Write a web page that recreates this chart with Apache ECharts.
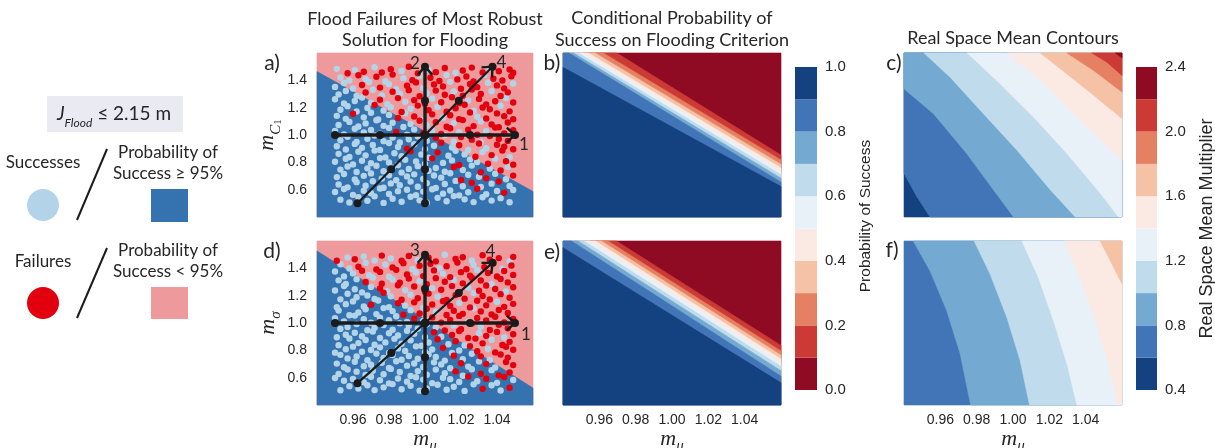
<!DOCTYPE html>
<html>
<head>
<meta charset="utf-8">
<title>Flood failure multipliers</title>
<script src="https://cdn.jsdelivr.net/npm/echarts@6.0.0/dist/echarts.min.js"></script>
<style>
  html, body { margin: 0; padding: 0; background: #ffffff; }
  #chart { width: 1215px; height: 448px; }
</style>
</head>
<body>
<div id="chart"></div>
<script>
// ---------------- axes ----------------
const muRange = [0.94, 1.06];
const multRange = [0.4, 1.6];
const muTickStep = 0.02;
const multTickStep = 0.2;

// ---------------- contour levels ----------------
const probLevels = [0, 0.1, 0.2, 0.3, 0.4, 0.5, 0.6, 0.7, 0.8, 0.9, 1.0];
const meanLevels = [0.4, 0.6, 0.8, 1.0, 1.2, 1.4, 1.6, 1.8, 2.0, 2.2, 2.4];
const meanLevelsC1 = [0.6, 0.8, 1.0, 1.2, 1.4, 1.6, 1.8, 2.0, 2.2];
const meanLevelsSigma = [0.8, 1.0, 1.2, 1.4, 1.6];

// ---------------- 95% reliability boundary (mu, multiplier) ----------------
const c1Boundary95 = [[0.94, 1.464], [1.06, 0.587]];
const sigmaBoundary95 = [[0.94, 1.527], [1.06, 0.524]];

// ---------------- conditional probability contours, levels 0.1 .. 0.9 ----------------
const probContoursC1 = [
  [[0.9696, 1.6], [1.06, 0.853]],
  [[0.9622, 1.6], [1.06, 0.817]],
  [[0.9576, 1.6], [1.06, 0.785]],
  [[0.9539, 1.6], [1.06, 0.759]],
  [[0.9512, 1.6], [1.06, 0.735]],
  [[0.9484, 1.6], [1.06, 0.710]],
  [[0.9457, 1.6], [1.06, 0.684]],
  [[0.9433, 1.6], [1.06, 0.655]],
  [[0.94, 1.495], [1.06, 0.623]]
];
const probContoursSigma = [
  [[0.9694, 1.6], [1.06, 0.836]],
  [[0.9648, 1.6], [1.06, 0.795]],
  [[0.9611, 1.6], [1.06, 0.764]],
  [[0.9578, 1.6], [1.06, 0.737]],
  [[0.9547, 1.6], [1.06, 0.711]],
  [[0.9516, 1.6], [1.06, 0.682]],
  [[0.9483, 1.6], [1.06, 0.650]],
  [[0.9446, 1.6], [1.06, 0.611]],
  [[0.94, 1.551], [1.06, 0.562]]
];

// ---------------- real space mean contours ----------------
const meanContoursC1 = [
  [[0.94, 0.72], [0.947, 0.55], [0.9543, 0.40]],
  [[0.94, 1.338], [0.9562, 1.156], [0.9745, 0.865], [0.9892, 0.599], [1.0003, 0.40]],
  [[0.951, 1.6], [0.9654, 1.423], [0.9837, 1.156], [1.0021, 0.890], [1.0205, 0.599], [1.0343, 0.40]],
  [[0.9749, 1.6], [0.9929, 1.375], [1.0113, 1.132], [1.0297, 0.865], [1.048, 0.575], [1.0581, 0.40]],
  [[0.9966, 1.6], [1.0131, 1.423], [1.0297, 1.205], [1.0462, 0.987], [1.06, 0.817]],
  [[1.015, 1.6], [1.0297, 1.447], [1.0444, 1.29], [1.06, 1.12]],
  [[1.0297, 1.6], [1.0444, 1.472], [1.06, 1.314]],
  [[1.0434, 1.6], [1.0517, 1.532], [1.06, 1.435]],
  [[1.0563, 1.6], [1.06, 1.564]]
];
const meanContoursSigma = [
  [[0.9451, 1.6], [0.9543, 1.382], [0.9635, 1.091], [0.9709, 0.776], [0.9767, 0.40]],
  [[0.9786, 1.6], [0.9874, 1.358], [0.9966, 1.042], [1.0039, 0.727], [1.0091, 0.40]],
  [[1.0049, 1.6], [1.014, 1.333], [1.0223, 1.018], [1.0297, 0.703], [1.0352, 0.40]],
  [[1.0282, 1.6], [1.037, 1.333], [1.0453, 1.018], [1.0526, 0.703], [1.0576, 0.40]],
  [[1.048, 1.6], [1.0545, 1.43], [1.06, 1.285]]
];

// ---------------- scenario paths ----------------
const arrow1Path = [[0.95, 1], [0.975, 1], [1, 1], [1.025, 1], [1.05, 1]];
const arrow2Path = [[1, 0.5], [1, 0.75], [1, 1], [1, 1.25], [1, 1.5]];
const arrow3Path = [[1, 0.5], [1, 0.75], [1, 1], [1, 1.25], [1, 1.5]];
const arrow4C1Path = [[0.9625, 0.5], [0.98125, 0.75], [1, 1], [1.01875, 1.25], [1.0375, 1.5]];
const arrow4SigmaPath = [[0.9625, 0.56], [0.98125, 0.78], [1, 1], [1.01875, 1.22], [1.0375, 1.44]];

// ---------------- sampled multipliers (rows of the sample) ----------------
const muRows = [
  [.951,.957,.961,.966,.972,.976,.981,.987,.991,.996,1.002,1.006,1.011,1.017,1.021,1.026,1.032,1.036,1.041,1.047,1.049],
  [.953,.958,.963,.967,.973,.978,.982,.988,.993,.997,1.003,1.008,1.012,1.018,1.023,1.027,1.033,1.038,1.043,1.048],
  [.950,.955,.960,.965,.969,.975,.980,.984,.990,.995,.999,1.005,1.010,1.014,1.020,1.025,1.029,1.035,1.040,1.044,1.049],
  [.952,.956,.962,.967,.971,.976,.982,.986,.991,.997,1.001,1.006,1.011,1.016,1.021,1.026,1.031,1.037,1.042,1.046],
  [.950,.955,.961,.965,.970,.975,.979,.985,.989,.994,1.000,1.004,1.009,1.015,1.019,1.024,1.030,1.034,1.039,1.045,1.049],
  [.953,.957,.962,.968,.972,.977,.981,.987,.992,.996,1.002,1.007,1.012,1.017,1.022,1.027,1.032,1.036,1.042,1.047],
  [.951,.956,.960,.966,.970,.974,.980,.985,.989,.994,.999,1.004,1.010,1.014,1.019,1.025,1.029,1.034,1.040,1.044,1.049],
  [.952,.958,.963,.967,.973,.977,.982,.988,.992,.997,1.001,1.006,1.012,1.016,1.021,1.027,1.031,1.037,1.041,1.046],
  [.950,.955,.961,.966,.970,.975,.980,.984,.990,.994,.999,1.004,1.009,1.014,1.019,1.024,1.029,1.034,1.039,1.044,1.049],
  [.953,.957,.962,.968,.972,.977,.982,.986,.991,.996,1.001,1.006,1.011,1.016,1.020,1.026,1.031,1.036,1.041,1.046],
  [.951,.956,.961,.965,.971,.975,.980,.985,.990,.994,1.000,1.005,1.009,1.015,1.019,1.024,1.030,1.034,1.040,1.044,1.049],
  [.952,.958,.963,.967,.972,.978,.983,.987,.992,.998,1.002,1.007,1.013,1.017,1.022,1.028,1.032,1.037,1.043,1.047],
  [.950,.956,.960,.965,.970,.975,.980,.985,.989,.995,1.000,1.004,1.010,1.015,1.019,1.025,1.029,1.035,1.039,1.045,1.049],
  [.953,.957,.962,.968,.973,.977,.982,.987,.991,.996,1.002,1.006,1.011,1.016,1.021,1.026,1.031,1.036,1.042,1.046],
  [.951,.955,.961,.966,.970,.976,.980,.984,.990,.994,.999,1.005,1.009,1.014,1.020,1.024,1.030,1.034,1.039,1.045,1.049],
  [.952,.957,.962,.967,.971,.977,.981,.986,.992,.996,1.001,1.006,1.011,1.017,1.021,1.026,1.031,1.037,1.041,1.047],
  [.950,.955,.960,.966,.970,.975,.980,.985,.990,.995,.999,1.004,1.010,1.014,1.019,1.024,1.029,1.034,1.040,1.044,1.049],
  [.953,.958,.963,.968,.972,.977,.982,.987,.992,.997,1.001,1.007,1.012,1.016,1.022,1.027,1.032,1.037,1.042,1.047]
];
const c1Rows = [
  [1.484,1.452,1.475,1.463,1.496,1.457,1.481,1.468,1.499,1.451,1.478,1.46,1.49,1.455,1.472,1.493,1.458,1.487,1.466,1.479,1.455],
  [1.421,1.398,1.437,1.409,1.426,1.393,1.442,1.415,1.401,1.433,1.419,1.396,1.438,1.407,1.428,1.392,1.44,1.412,1.399,1.43],
  [1.352,1.381,1.34,1.366,1.388,1.347,1.372,1.336,1.36,1.385,1.343,1.369,1.355,1.389,1.338,1.374,1.35,1.382,1.363,1.341,1.377],
  [1.297,1.322,1.285,1.311,1.331,1.29,1.316,1.302,1.328,1.283,1.306,1.325,1.294,1.318,1.288,1.333,1.3,1.321,1.286,1.312],
  [1.262,1.231,1.249,1.274,1.236,1.258,1.226,1.27,1.243,1.255,1.229,1.267,1.24,1.276,1.233,1.252,1.264,1.224,1.247,1.271,1.238],
  [1.185,1.211,1.172,1.198,1.219,1.178,1.204,1.169,1.192,1.215,1.181,1.207,1.17,1.195,1.221,1.176,1.201,1.188,1.214,1.173],
  [1.14,1.118,1.156,1.129,1.163,1.114,1.147,1.124,1.16,1.135,1.112,1.151,1.127,1.144,1.116,1.165,1.133,1.121,1.158,1.138,1.115],
  [1.073,1.096,1.062,1.085,1.108,1.067,1.09,1.058,1.081,1.104,1.07,1.094,1.06,1.087,1.109,1.065,1.1,1.077,1.057,1.092],
  [1.029,1.004,1.046,1.018,1.037,1.01,1.052,1.023,1.003,1.041,1.015,1.033,1.007,1.049,1.021,1.038,1.002,1.027,1.054,1.012,1.035],
  [.961,.987,.949,.973,.996,.955,.982,.946,.968,.991,.958,.979,.998,.951,.985,.966,.947,.993,.971,.957],
  [.918,.894,.935,.906,.927,.891,.941,.912,.9,.932,.897,.921,.943,.909,.925,.89,.938,.903,.929,.914,.896],
  [.862,.839,.878,.851,.886,.836,.867,.845,.881,.857,.834,.873,.848,.884,.858,.841,.876,.853,.887,.838],
  [.804,.826,.785,.812,.793,.831,.799,.78,.818,.806,.788,.829,.796,.814,.781,.822,.802,.79,.827,.808,.783],
  [.747,.769,.729,.756,.775,.735,.761,.725,.752,.772,.738,.759,.731,.766,.744,.776,.727,.755,.741,.767],
  [.692,.715,.674,.701,.719,.681,.706,.669,.697,.712,.678,.704,.688,.72,.671,.709,.694,.684,.716,.676,.703],
  [.638,.617,.655,.629,.662,.614,.646,.633,.659,.621,.648,.612,.641,.664,.625,.651,.619,.644,.66,.627],
  [.583,.605,.562,.592,.574,.608,.568,.589,.599,.56,.586,.603,.571,.594,.558,.581,.607,.566,.591,.577,.598],
  [.527,.506,.545,.518,.551,.503,.534,.512,.548,.522,.505,.54,.515,.553,.529,.509,.544,.52,.538,.508]
];
const sigmaRows = [
  [1.455,1.479,1.466,1.487,1.458,1.493,1.472,1.455,1.49,1.46,1.478,1.451,1.499,1.468,1.481,1.457,1.496,1.463,1.475,1.452,1.484],
  [1.43,1.399,1.412,1.44,1.392,1.428,1.407,1.438,1.396,1.419,1.433,1.401,1.415,1.442,1.393,1.426,1.409,1.437,1.398,1.421],
  [1.377,1.341,1.363,1.382,1.35,1.374,1.338,1.389,1.355,1.369,1.343,1.385,1.36,1.336,1.372,1.347,1.388,1.366,1.34,1.381,1.352],
  [1.312,1.286,1.321,1.3,1.333,1.288,1.318,1.294,1.325,1.306,1.283,1.328,1.302,1.316,1.29,1.331,1.311,1.285,1.322,1.297],
  [1.238,1.271,1.247,1.224,1.264,1.252,1.233,1.276,1.24,1.267,1.229,1.255,1.243,1.27,1.226,1.258,1.236,1.274,1.249,1.231,1.262],
  [1.173,1.214,1.188,1.201,1.176,1.221,1.195,1.17,1.207,1.181,1.215,1.192,1.169,1.204,1.178,1.219,1.198,1.172,1.211,1.185],
  [1.115,1.138,1.158,1.121,1.133,1.165,1.116,1.144,1.127,1.151,1.112,1.135,1.16,1.124,1.147,1.114,1.163,1.129,1.156,1.118,1.14],
  [1.092,1.057,1.077,1.1,1.065,1.109,1.087,1.06,1.094,1.07,1.104,1.081,1.058,1.09,1.067,1.108,1.085,1.062,1.096,1.073],
  [1.035,1.012,1.054,1.027,1.002,1.038,1.021,1.049,1.007,1.033,1.015,1.041,1.003,1.023,1.052,1.01,1.037,1.018,1.046,1.004,1.029],
  [.957,.971,.993,.947,.966,.985,.951,.998,.979,.958,.991,.968,.946,.982,.955,.996,.973,.949,.987,.961],
  [.896,.914,.929,.903,.938,.89,.925,.909,.943,.921,.897,.932,.9,.912,.941,.891,.927,.906,.935,.894,.918],
  [.838,.887,.853,.876,.841,.858,.884,.848,.873,.834,.857,.881,.845,.867,.836,.886,.851,.878,.839,.862],
  [.783,.808,.827,.79,.802,.822,.781,.814,.796,.829,.788,.806,.818,.78,.799,.831,.793,.812,.785,.826,.804],
  [.767,.741,.755,.727,.776,.744,.766,.731,.759,.738,.772,.752,.725,.761,.735,.775,.756,.729,.769,.747],
  [.703,.676,.716,.684,.694,.709,.671,.72,.688,.704,.678,.712,.697,.669,.706,.681,.719,.701,.674,.715,.692],
  [.627,.66,.644,.619,.651,.625,.664,.641,.612,.648,.621,.659,.633,.646,.614,.662,.629,.655,.617,.638],
  [.598,.577,.591,.566,.607,.581,.558,.594,.571,.603,.586,.56,.599,.589,.568,.608,.574,.592,.562,.605,.583],
  [.508,.538,.52,.544,.509,.529,.553,.515,.54,.505,.522,.548,.512,.534,.503,.551,.518,.545,.506,.527]
];
// flood outcome per sample: S = success, F = failure
const c1Outcomes = [
  'SFSFSFFSFFSFFSFFFSFFF', 'SSFSFSFSFSFFSFFFSFFF', 'SSSFSFSSFFSFFSFFFSFFS', 'SSSFSSFSFFSFFSFFFSFF',
  'SSSSSFSFSFFSFFFSFFFSF', 'SSSSFSSFSFFSFFFSFFSF', 'SSFSSSSFSFSFSFFFSFFFF', 'SSSSSSSSSFSFFSFFSFFF',
  'SSSSSSSFSSFSFFSFFSFFF', 'SSSSSSSSSSSFSSFFSFFF', 'SSSSSSSSFSSSFSFSFSFFF', 'SSSSSSSSFSSFSSSFSFFS',
  'SSSSSSSSSSSFSSFSSFSFF', 'SSSSSSSSSSSSSFSSFSFS', 'SSSSSSSSSSSSSSFSSFSSF', 'SSSSSSSSSSSSSSSFSSFS',
  'SSSSSSSSSSSSSSSSFSSFS', 'SSSSSSSSSSSSSSSSSSSS'
];
const sigmaOutcomes = [
  'FSFSSFSFFSFFSFFSFFFSF', 'SSFSFSFFSFFSFFFSFFSF', 'SSSFSFSFFSFFSFFFSFFFF', 'SSSFSFSFFSFFFSFFFSFF',
  'SSSSSFSFSFFSFFFSFFFSF', 'SSSSSFSFSFFSFFFSFFFF', 'SSSSFSSFSFSFFFSFFFSFF', 'SSSSSSSFSFFSFFFSFFFF',
  'SSSSSSSSSFSFFFFSFFFFF', 'SSSSSSSSSSSSFSFFSFFF', 'SSSSSSSSSSSFSFFFSFFSF', 'SSSSSSSSSSSFSFSFFSFF',
  'SSSSSSSSSSSSFSSFFSFFF', 'SSSSSSSSSSSSSFSSFSFF', 'SSSSSSSSSSSSSSFSSFSFF', 'SSSSSSSSSSSSSFSSFSFF',
  'SSSSSSSSSSSSSSSFSFSFS', 'SSSSSSSSSSSSSSSSFSSF'
];

// ---------------- styling ----------------
const bandColors = ['#8f0b24', '#cb3a34', '#e58062', '#f5c2a6', '#fbeae3',
                    '#e9f1f8', '#c0dcec', '#74aad2', '#4275b7', '#144180'];
const meanBandColors = bandColors.slice().reverse();
const successDot = '#b3d4e8';
const failDot = '#e2000f';
const successFill = '#3473af';
const failFill = '#ee9a9c';
const ink = '#1b1b1b';
const textInk = '#262626';
const sansUI = 'Lato';
const sansTick = 'Liberation Sans';
const serifMath = 'Liberation Serif';

// ---------------- helpers ----------------
const EPS = 1e-6;
const [X0, X1] = muRange;
const [Y0, Y1] = multRange;
const fullRect = [[X0, Y0], [X1, Y0], [X1, Y1], [X0, Y1]];

// region on the low-mu / low-multiplier side of a boundary line
function lowerLeftOf(line) {
  const pts = line.map(p => p.slice());
  const s = line[0], e = line[line.length - 1];
  if (Math.abs(e[0] - X1) < EPS && e[1] > Y0 + EPS) pts.push([X1, Y0]);
  pts.push([X0, Y0]);
  if (Math.abs(s[1] - Y1) < EPS && s[0] > X0 + EPS) pts.push([X0, Y1]);
  return pts;
}
// region on the high-mu / high-multiplier side of a boundary line
function upperRightOf(line) {
  const pts = line.map(p => p.slice());
  const s = line[0], e = line[line.length - 1];
  if (Math.abs(e[1] - Y0) < EPS && e[0] < X1 - EPS) pts.push([X1, Y0]);
  pts.push([X1, Y1]);
  if (Math.abs(s[0] - X0) < EPS && s[1] < Y1 - EPS) pts.push([X0, Y1]);
  return pts;
}
function meanColor(level) {
  return meanBandColors[Math.round((level - meanLevels[0]) / 0.2)];
}
function samples(yRows, outcomes, flag) {
  const out = [];
  muRows.forEach((xs, r) => xs.forEach((x, k) => {
    const o = outcomes[r][k] || 'S';
    if (o === flag) out.push([x, yRows[r][k]]);
  }));
  return out;
}

function regionSeries(gi, polys) {
  return {
    type: 'custom', xAxisIndex: gi, yAxisIndex: gi, silent: true, z: 1,
    data: polys.map((p, i) => [i]),
    renderItem: (params, api) => {
      const p = polys[params.dataIndex];
      return {
        type: 'polygon',
        shape: { points: p.pts.map(q => api.coord(q)) },
        style: { fill: p.color, stroke: p.color, lineWidth: 0.6 }
      };
    }
  };
}
function scatterSeries(gi, pts, color, z) {
  return {
    type: 'scatter', xAxisIndex: gi, yAxisIndex: gi, data: pts, z, silent: true,
    symbol: 'circle', symbolSize: 6.4, itemStyle: { color, opacity: 1 }
  };
}
function pathSeries(gi, path, width) {
  return {
    type: 'line', xAxisIndex: gi, yAxisIndex: gi, data: path, z: 5, silent: true,
    symbol: 'circle', symbolSize: 8, showSymbol: true, showAllSymbol: true,
    lineStyle: { color: ink, width }, itemStyle: { color: ink }
  };
}
function headSeries(gi, arrows) {
  return {
    type: 'custom', xAxisIndex: gi, yAxisIndex: gi, z: 6, silent: true,
    data: arrows.map(a => a.path[a.path.length - 1]),
    renderItem: (params, api) => {
      const a = arrows[params.dataIndex];
      const n = a.path.length;
      const t = api.coord(a.path[n - 1]);
      const p = api.coord(a.path[n - 2]);
      const ang = Math.atan2(t[1] - p[1], t[0] - p[0]);
      const L = 11, spread = Math.PI / 4.3;
      const leg = s => [t[0] - L * Math.cos(ang + s), t[1] - L * Math.sin(ang + s)];
      return {
        type: 'group',
        children: [
          { type: 'polyline', shape: { points: [leg(spread), t, leg(-spread)] },
            style: { stroke: ink, lineWidth: 2.4, fill: 'none' } },
          { type: 'text', x: t[0] + a.dx, y: t[1] + a.dy,
            style: { text: a.label, font: '17px ' + sansUI, fill: textInk,
                     textAlign: 'center', textVerticalAlign: 'middle' } }
        ]
      };
    }
  };
}
function colorbarSeries(gi, levels, colors) {
  const bands = [];
  for (let i = 0; i < levels.length - 1; i++) bands.push([levels[i], levels[i + 1], i]);
  return {
    type: 'custom', xAxisIndex: gi, yAxisIndex: gi, silent: true,
    data: bands,
    renderItem: (params, api) => {
      const lo = api.value(0), hi = api.value(1);
      const a = api.coord([0, hi]), b = api.coord([1, lo]);
      return { type: 'rect', shape: { x: a[0], y: a[1], width: b[0] - a[0], height: b[1] - a[1] },
               style: { fill: colors[api.value(2)] } };
    }
  };
}

// ---------------- panel regions ----------------
const regionsA = [{ pts: fullRect, color: failFill }, { pts: lowerLeftOf(c1Boundary95), color: successFill }];
const regionsD = [{ pts: fullRect, color: failFill }, { pts: lowerLeftOf(sigmaBoundary95), color: successFill }];
const regionsB = [{ pts: fullRect, color: bandColors[0] }]
  .concat(probContoursC1.map((l, i) => ({ pts: lowerLeftOf(l), color: bandColors[i + 1] })));
const regionsE = [{ pts: fullRect, color: bandColors[0] }]
  .concat(probContoursSigma.map((l, i) => ({ pts: lowerLeftOf(l), color: bandColors[i + 1] })));
const regionsC = [{ pts: fullRect, color: meanColor(0.4) }]
  .concat(meanContoursC1.map((l, i) => ({ pts: upperRightOf(l), color: meanColor(meanLevelsC1[i]) })));
const regionsF = [{ pts: fullRect, color: meanColor(0.6) }]
  .concat(meanContoursSigma.map((l, i) => ({ pts: upperRightOf(l), color: meanColor(meanLevelsSigma[i]) })));

const arrowsA = [
  { path: arrow1Path, label: '1', width: 3.4, dx: 9, dy: 10 },
  { path: arrow2Path, label: '2', width: 3.4, dx: -10, dy: -3 },
  { path: arrow4C1Path, label: '4', width: 2.2, dx: 9, dy: -4 }
];
const arrowsD = [
  { path: arrow1Path, label: '1', width: 3.4, dx: 11, dy: 12 },
  { path: arrow3Path, label: '3', width: 3.4, dx: -10, dy: -4 },
  { path: arrow4SigmaPath, label: '4', width: 2.2, dx: -2, dy: -11 }
];

// ---------------- axes ----------------
const mathRich = {
  m: { fontFamily: serifMath, fontStyle: 'italic', fontSize: 22, color: textInk, verticalAlign: 'middle', lineHeight: 30 },
  s: { fontFamily: serifMath, fontStyle: 'italic', fontSize: 15, color: textInk, verticalAlign: 'bottom', lineHeight: 30 },
  t: { fontFamily: serifMath, fontSize: 11, color: textInk, verticalAlign: 'bottom', lineHeight: 32 }
};
function muAxis(gi, withLabels) {
  return {
    type: 'value', gridIndex: gi, min: X0, max: X1, interval: muTickStep,
    axisLine: { show: false }, axisTick: { show: false }, splitLine: { show: false },
    axisLabel: {
      show: withLabels, showMinLabel: false, showMaxLabel: false, margin: 8,
      fontFamily: sansTick, fontSize: 14, color: textInk, formatter: v => v.toFixed(2)
    },
    name: withLabels ? '{m|m}{s|μ}' : '', nameLocation: 'middle', nameGap: 15,
    nameTextStyle: { rich: mathRich }
  };
}
function multAxis(gi, name) {
  return {
    type: 'value', gridIndex: gi, min: Y0, max: Y1, interval: multTickStep,
    axisLine: { show: false }, axisTick: { show: false }, splitLine: { show: false },
    axisLabel: {
      show: !!name, showMinLabel: false, showMaxLabel: false, margin: 10,
      fontFamily: sansTick, fontSize: 14, color: textInk, formatter: v => v.toFixed(1)
    },
    name: name || '', nameLocation: 'middle', nameRotate: 90, nameGap: 16,
    nameTextStyle: { rich: mathRich }
  };
}
function barAxis(gi, levels, step, name, gap, size) {
  return {
    type: 'value', gridIndex: gi, position: 'right',
    min: levels[0], max: levels[levels.length - 1], interval: step,
    axisLine: { show: false }, axisTick: { show: false }, splitLine: { show: false },
    axisLabel: { margin: 8, fontFamily: sansTick, fontSize: 15, color: textInk, formatter: v => v.toFixed(1) },
    name, nameLocation: 'middle', nameRotate: 90, nameGap: gap,
    nameTextStyle: { fontFamily: sansTick, fontSize: size, color: textInk }
  };
}

const grids = [
  { left: 317, top: 53, width: 216, height: 164 },
  { left: 563, top: 53, width: 218, height: 164 },
  { left: 904, top: 53, width: 218, height: 164 },
  { left: 317, top: 241, width: 216, height: 164 },
  { left: 563, top: 241, width: 218, height: 164 },
  { left: 904, top: 241, width: 218, height: 164 },
  { left: 795, top: 67, width: 22, height: 323 },
  { left: 1136, top: 67, width: 21, height: 323 }
].map(g => Object.assign({ outerBoundsMode: 'none', containLabel: false }, g));

const xAxes = [0, 1, 2, 3, 4, 5].map(i => muAxis(i, i >= 3))
  .concat([6, 7].map(i => ({ type: 'value', gridIndex: i, min: 0, max: 1, show: false })));
const yAxes = [
  multAxis(0, '{m|m}{s|C}{t|1}'), multAxis(1), multAxis(2),
  multAxis(3, '{m|m}{s|σ}'), multAxis(4), multAxis(5),
  barAxis(6, probLevels, 0.2, '', 40, 15.5),
  barAxis(7, meanLevels, 0.4, 'Real Space Mean Multiplier', 41, 18)
];

// ---------------- titles, panel letters and key ----------------
function label(text, x, y, size, extra) {
  return Object.assign({
    type: 'text', x, y, z: 100, silent: true,
    style: { text, font: size + 'px ' + sansUI, fill: textInk, textAlign: 'center', textVerticalAlign: 'middle' }
  }, extra || {});
}
const graphics = [
  label('Flood Failures of Most Robust', 425, 19, 18),
  label('Solution for Flooding', 425, 40, 18),
  label('Conditional Probability of', 672, 18, 18),
  label('Success on Flooding Criterion', 672, 40, 18),
  label('Real Space Mean Contours', 1013, 38, 18),
  label('a)', 272, 63, 21), label('b)', 552, 63, 21), label('c)', 894, 63, 21),
  label('d)', 272, 251, 21), label('e)', 552, 252, 21), label('f)', 892, 250, 21),
  // colour bar title for the probability scale
  { type: 'text', x: 866, y: 216, rotation: Math.PI / 2, z: 100, silent: true,
    style: { text: 'Probability of Success', font: '15.5px ' + sansTick, fill: textInk,
             textAlign: 'center', textVerticalAlign: 'middle' } },
  { type: 'rect', x: 47, y: 96, shape: { width: 136, height: 36 }, style: { fill: '#eaeaf2' }, silent: true },
  { type: 'text', x: 114, y: 114, silent: true,
    style: {
      text: '{j|J}{f|Flood}{t| ≤ 2.15 m}', textAlign: 'center', textVerticalAlign: 'middle',
      rich: {
        j: { fontFamily: sansUI, fontStyle: 'italic', fontSize: 19, fill: textInk, verticalAlign: 'middle', lineHeight: 30 },
        f: { fontFamily: sansUI, fontStyle: 'italic', fontSize: 12, fill: textInk, verticalAlign: 'bottom', lineHeight: 30 },
        t: { fontFamily: sansUI, fontSize: 19, fill: textInk, verticalAlign: 'middle', lineHeight: 30 }
      }
    } },
  label('Successes', 43, 163, 17),
  { type: 'circle', shape: { cx: 43, cy: 205, r: 16 }, style: { fill: successDot }, silent: true },
  { type: 'line', shape: { x1: 77, y1: 220, x2: 107, y2: 149 }, style: { stroke: ink, lineWidth: 2 }, silent: true },
  label('Probability of', 168, 153, 17),
  label('Success ≥ 95%', 168, 174, 17),
  { type: 'rect', x: 151, y: 189, shape: { width: 37, height: 33 }, style: { fill: successFill }, silent: true },
  label('Failures', 43, 262, 17),
  { type: 'circle', shape: { cx: 43, cy: 303, r: 16 }, style: { fill: failDot }, silent: true },
  { type: 'line', shape: { x1: 77, y1: 318, x2: 107, y2: 248 }, style: { stroke: ink, lineWidth: 2 }, silent: true },
  label('Probability of', 168, 251, 17),
  label('Success < 95%', 168, 272, 17),
  { type: 'rect', x: 151, y: 287, shape: { width: 37, height: 32 }, style: { fill: failFill }, silent: true }
];

// ---------------- series ----------------
const series = [
  regionSeries(0, regionsA),
  scatterSeries(0, samples(c1Rows, c1Outcomes, 'S'), successDot, 2),
  scatterSeries(0, samples(c1Rows, c1Outcomes, 'F'), failDot, 3),
  regionSeries(1, regionsB),
  regionSeries(2, regionsC),
  regionSeries(3, regionsD),
  scatterSeries(3, samples(sigmaRows, sigmaOutcomes, 'S'), successDot, 2),
  scatterSeries(3, samples(sigmaRows, sigmaOutcomes, 'F'), failDot, 3),
  regionSeries(4, regionsE),
  regionSeries(5, regionsF),
  colorbarSeries(6, probLevels, bandColors),
  colorbarSeries(7, meanLevels, meanBandColors)
];
arrowsA.forEach(a => series.push(pathSeries(0, a.path, a.width)));
arrowsD.forEach(a => series.push(pathSeries(3, a.path, a.width)));
series.push(headSeries(0, arrowsA));
series.push(headSeries(3, arrowsD));

const chart = echarts.init(document.getElementById('chart'), null, { renderer: 'canvas' });
chart.setOption({
  animation: false,
  backgroundColor: '#ffffff',
  textStyle: { fontFamily: sansTick },
  grid: grids,
  xAxis: xAxes,
  yAxis: yAxes,
  graphic: graphics,
  series
});
</script>
</body>
</html>
